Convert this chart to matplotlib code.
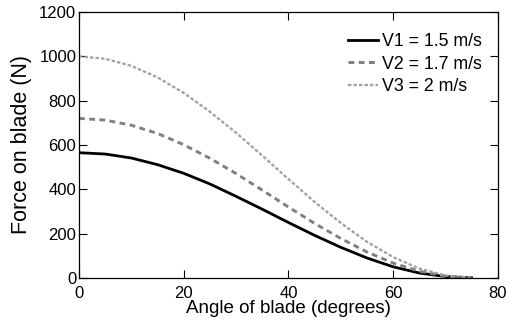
import matplotlib
matplotlib.use('Agg')
import matplotlib.pyplot as plt

plt.rcParams['font.family'] = ['Liberation Sans', 'DejaVu Sans']

# angulo da pa (graus) e forca (N)
angulo = [0, 5, 10, 15, 20, 25, 30, 35, 40, 45, 50, 55, 60, 65, 70, 75]
v1 = [565, 559, 541, 511, 472, 424, 368, 310, 250, 192, 138, 90, 50, 22, 6, 0]
v2 = [720, 712, 689, 652, 601, 540, 471, 396, 320, 246, 178, 117, 67, 30, 8, 0]
v3 = [1000, 989, 957, 905, 835, 750, 655, 552, 446, 343, 248, 163, 94, 42, 11, 0]
rotulos = ["V1 = 1.5 m/s", "V2 = 1.7 m/s", "V3 = 2 m/s"]

fig = plt.figure(figsize=(5.1, 3.25), dpi=100)
ax = fig.add_axes([0.155, 0.145, 0.821, 0.818])

ax.plot(angulo, v1, color='black', lw=2.0, label=rotulos[0])
ax.plot(angulo, v2, color='#808080', lw=2.1, dashes=(2.0, 1.5), label=rotulos[1])
ax.plot(angulo, v3, color='#a2a2a2', lw=1.65, dashes=(1.5, 0.9), label=rotulos[2])

ax.set_xlim(0, 80)
ax.set_ylim(0, 1200)
ax.set_xticks([0, 20, 40, 60, 80])
ax.set_yticks([0, 200, 400, 600, 800, 1000, 1200])
ax.tick_params(direction='in', top=True, right=True, length=5.5, width=0.8,
               labelsize=12, pad=2)
ax.tick_params(axis='x', pad=6)
for s in ax.spines.values():
    s.set_linewidth(0.9)

ax.set_xlabel("Angle of blade (degrees)", fontsize=13.5, labelpad=-1)
ax.set_ylabel("Force on blade (N)", fontsize=15.5, labelpad=5)

ax.legend(loc='upper right', bbox_to_anchor=(1.014, 1.0), frameon=False,
          fontsize=12.8, handlelength=1.7, handletextpad=0.25,
          labelspacing=0.3, borderaxespad=0.8)

fig.savefig("out.png", dpi=100)
